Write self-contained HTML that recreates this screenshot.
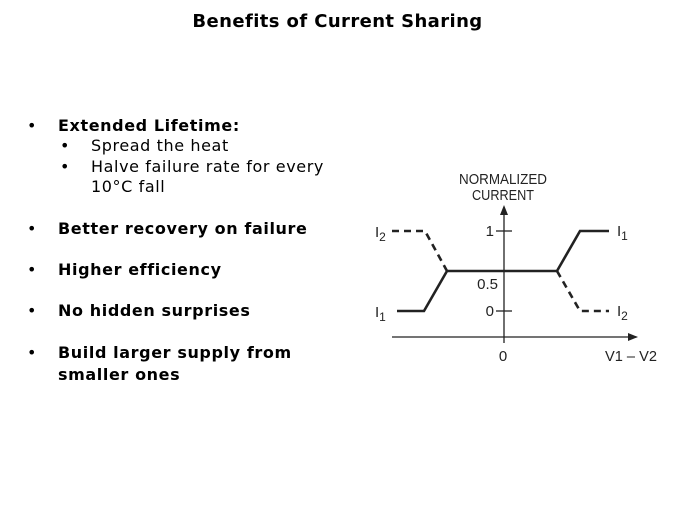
<!DOCTYPE html>
<html><head><meta charset="utf-8"><style>
body{margin:0;width:675px;height:506px;background:#fff;position:relative;overflow:hidden;font-family:"DejaVu Sans","Liberation Sans",sans-serif;color:#000}
.t{position:absolute;white-space:nowrap;font-size:16px;line-height:20px;letter-spacing:0.6px}
.b{font-weight:bold}
</style></head><body>
<div class="t b" style="left:0;width:675px;text-align:center;top:12px;font-size:18px;letter-spacing:0.4px">Benefits of Current Sharing</div>
<div class="t" style="left:27px;top:116px">•</div><div class="t b" style="left:58px;top:116px">Extended Lifetime:</div>
<div class="t" style="left:60px;top:136px">•</div><div class="t" style="left:91px;top:136px">Spread the heat</div>
<div class="t" style="left:60px;top:157px">•</div><div class="t" style="left:91px;top:157px">Halve failure rate for every</div>
<div class="t" style="left:91px;top:177px">10°C fall</div>
<div class="t" style="left:27px;top:219px">•</div><div class="t b" style="left:58px;top:219px">Better recovery on failure</div>
<div class="t" style="left:27px;top:260px">•</div><div class="t b" style="left:58px;top:260px">Higher efficiency</div>
<div class="t" style="left:27px;top:301px">•</div><div class="t b" style="left:58px;top:301px">No hidden surprises</div>
<div class="t" style="left:27px;top:343px">•</div><div class="t b" style="left:58px;top:343px">Build larger supply from</div>
<div class="t b" style="left:58px;top:365px">smaller ones</div>
<svg style="position:absolute;left:0;top:0" width="675" height="506">
<g font-family="Liberation Sans, sans-serif" font-size="15" fill="#222">
<text x="503" y="184" text-anchor="middle" textLength="88" lengthAdjust="spacingAndGlyphs">NORMALIZED</text>
<text x="503" y="200" text-anchor="middle" textLength="62" lengthAdjust="spacingAndGlyphs">CURRENT</text>
<text x="494" y="236" text-anchor="end">1</text>
<text x="498" y="289" text-anchor="end">0.5</text>
<text x="494" y="316" text-anchor="end">0</text>
<text x="503" y="361" text-anchor="middle">0</text>
<text x="605" y="361" textLength="52" lengthAdjust="spacingAndGlyphs">V1 – V2</text>
<text x="375" y="237">I<tspan font-size="12" dy="4">2</tspan></text>
<text x="375" y="317">I<tspan font-size="12" dy="4">1</tspan></text>
<text x="617" y="236">I<tspan font-size="12" dy="4">1</tspan></text>
<text x="617" y="316">I<tspan font-size="12" dy="4">2</tspan></text>
</g>
<g stroke="#222" stroke-width="1.3" fill="none">
<line x1="504" y1="212" x2="504" y2="343"/>
<line x1="392" y1="337" x2="632" y2="337"/>
<line x1="496" y1="231" x2="512" y2="231"/>
<line x1="496" y1="311" x2="512" y2="311"/>
</g>
<polygon points="504,205 500,215 508,215" fill="#222"/>
<polygon points="638,337 628,333 628,341" fill="#222"/>
<g stroke="#222" stroke-width="2.6" fill="none" stroke-linejoin="miter">
<polyline points="397,311 424,311 447,271 557,271 580,231 609,231"/>
<polyline stroke-dasharray="7,5" points="392,231 425,231 447,271"/>
<polyline stroke-dasharray="7,5" points="557,271 580,311 609,311"/>
</g>
</svg>
</body></html>
